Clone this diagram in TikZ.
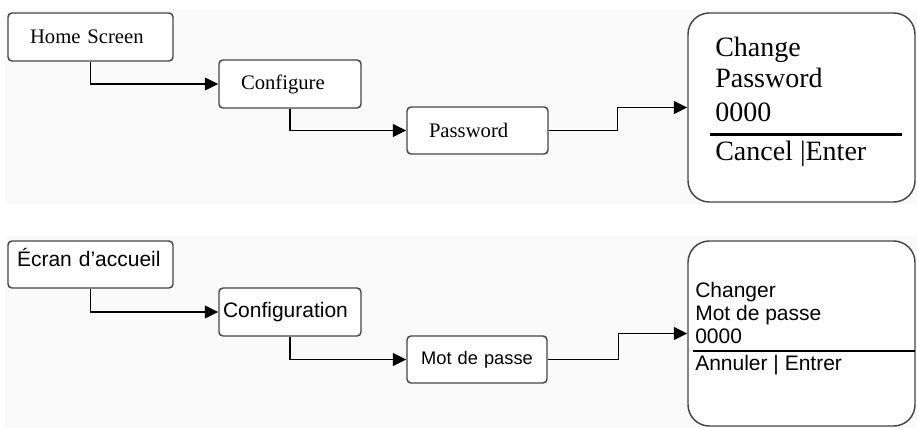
\documentclass[tikz,border=0pt]{standalone}
\usepackage{fontspec}
\setmainfont{Liberation Serif}
\newfontfamily\arialfont{Liberation Sans}
\usetikzlibrary{arrows.meta}
\definecolor{panelbg}{RGB}{249,250,249}
\definecolor{boxline}{RGB}{70,70,70}

\begin{document}
\begin{tikzpicture}[
	x=0.75pt, y=-0.75pt,
	menu/.style={
		rectangle,
		draw=boxline,
		line width=1.1pt,
		rounded corners=3pt,
		fill=white,
		align=left,
		inner xsep=16.5pt,
		inner ysep=0pt,
		minimum height=36pt,
		font=\fontsize{15.5}{18}\selectfont
	},
	menufr/.style={
		menu,
		inner xsep=3pt,
		font=\arialfont\fontsize{15.75}{18}\selectfont
	},
	screen/.style={
		rectangle,
		draw=boxline,
		line width=1.1pt,
		rounded corners=16pt,
		fill=white,
		minimum width=170.25pt
	},
	scrtext/.style={
		anchor=base west,
		inner sep=0pt,
		font=\fontsize{21}{24}\selectfont
	},
	scrtextfr/.style={
		scrtext,
		font=\arialfont\fontsize{15.75}{18}\selectfont
	},
	flow/.style={
		line width=1.1pt,
		-{Triangle[length=10pt,width=9.5pt]}
	}
]

\useasboundingbox (0,0) rectangle (917,428);
\fill[panelbg] (5,10) rectangle (917,204);
\fill[panelbg] (5,236) rectangle (917,428);

% English menu
\node[menu, text width=90.75pt] (home) at (90.5,37) {Home Screen};
\node[menu, text width=73.5pt] (conf) at (290,84) {Configure};
\node[menu, text width=72.75pt, minimum height=35.25pt] (pass) at (477.5,130.5) {Password};

\node[screen, minimum height=141.75pt] (chg) at (801.5,107.5) {};
\node[scrtext] (chg_a) at (715,57) {Change};
\node[scrtext] (chg_b) at (715,88) {Password};
\node[scrtext] (chg_c) at (715,122) {0000};
\node[scrtext] (chg_d) at (715,160) {Cancel |Enter};
\draw[line width=2.25pt] (710,134) -- (902,134);

\draw[flow] (home.south) |- (conf.west);
\draw[flow] (conf.south) |- (pass.west);
\draw[flow] (pass.east) -- ++(69,0) |- (chg.west);

% French menu
\node[menufr, inner xsep=6.75pt, text width=110.25pt, minimum height=35.25pt,
	text height=11pt, text depth=8.75pt] (ecran) at (90.5,264.5) {Écran d’accueil};
\node[menufr, text width=100.5pt] (conffr) at (290,312) {Configuration};
\node[menufr, align=center, text width=99pt, minimum height=35.25pt,
	font=\arialfont\fontsize{13.7}{16}\selectfont] (mdp) at (477,359.5) {Mot de passe};

\node[screen, minimum height=138.75pt] (chgfr) at (801.5,333.5) {};
\node[scrtextfr] (chgfr_a) at (695,297) {Changer};
\node[scrtextfr] (chgfr_b) at (695,320) {Mot de passe};
\node[scrtextfr] (chgfr_c) at (695,343) {0000};
\node[scrtextfr] (chgfr_d) at (695,370) {Annuler | Entrer};
\draw[line width=1.5pt] (693,351) -- (915,351);

\draw[flow] (ecran.south) |- (conffr.west);
\draw[flow] (conffr.south) |- (mdp.west);
\draw[flow] (mdp.east) -- ++(71,0) |- (chgfr.west);

\end{tikzpicture}
\end{document}
